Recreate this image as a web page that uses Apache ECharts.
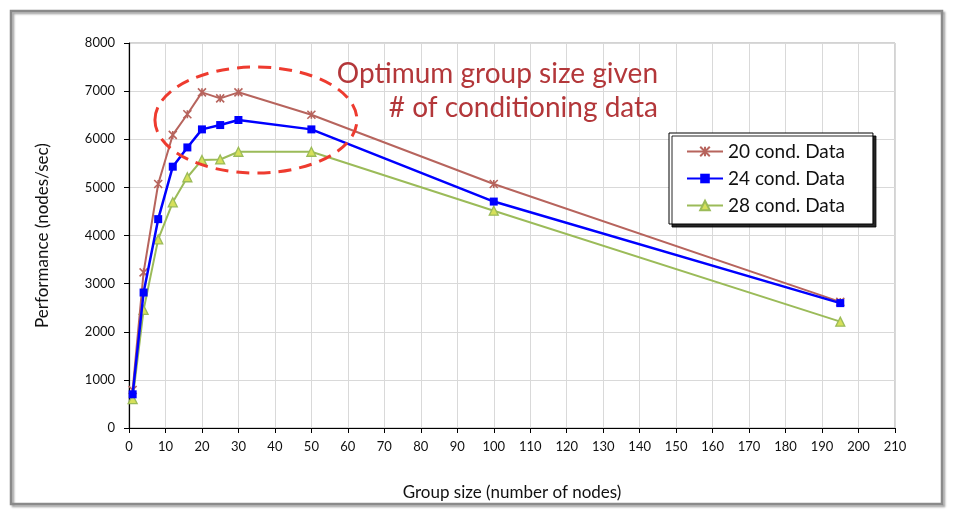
<!DOCTYPE html>
<html>
<head>
<meta charset="utf-8">
<script src="https://cdn.jsdelivr.net/npm/echarts@6/dist/echarts.min.js"></script>
<style>
html,body{margin:0;padding:0;background:#fff;}
#chart{width:956px;height:520px;}
</style>
</head>
<body>
<div id="chart"></div>
<script>
var groupSizes = [1, 4, 8, 12, 16, 20, 25, 30, 50, 100, 195];
var cond20 = [790, 3235, 5070, 6090, 6520, 6975, 6850, 6975, 6510, 5070, 2620];
var cond24 = [700, 2815, 4340, 5430, 5830, 6205, 6295, 6400, 6205, 4705, 2595];
var cond28 = [600, 2455, 3920, 4690, 5210, 5570, 5580, 5740, 5740, 4515, 2210];
var seriesNames = ['20 cond. Data', '24 cond. Data', '28 cond. Data'];
var annotationLines = ['Optimum group size given', '# of conditioning data'];

function pairs(ys) { return groupSizes.map(function (x, i) { return [x, ys[i]]; }); }

var FONT = 'Lato, "Open Sans", sans-serif';
var chart = echarts.init(document.getElementById('chart'));
var crossPath = 'path://M0,0L10,10M10,0L0,10M5,0L5,10';

chart.setOption({
  animation: false,
  backgroundColor: '#fff',
  textStyle: { fontFamily: FONT },
  grid: { left: 129, right: 61, top: 43, bottom: 92, show: true, borderColor: '#a6a6a6', borderWidth: 1 },
  legend: {
    orient: 'vertical',
    left: 669, top: 133,
    padding: [9, 28, 9, 17],
    itemGap: 8,
    itemWidth: 36, itemHeight: 12,
    backgroundColor: '#fff',
    borderColor: '#000', borderWidth: 1,
    shadowColor: 'rgba(0,0,0,0.85)', shadowOffsetX: 3, shadowOffsetY: 3, shadowBlur: 0,
    textStyle: { fontSize: 19, color: '#111', fontFamily: FONT },
    data: seriesNames
  },
  xAxis: {
    type: 'value', min: 0, max: 210, interval: 10,
    name: 'Group size (number of nodes)', nameLocation: 'middle', nameGap: 56,
    nameTextStyle: { fontSize: 17, color: '#111' },
    axisLine: { show: true, onZero: false, lineStyle: { color: '#000', width: 1.2 } },
    axisTick: { show: true, length: 5, lineStyle: { color: '#000' } },
    axisLabel: { fontSize: 13, color: '#111', margin: 12 },
    splitLine: { show: true, lineStyle: { color: '#d9d9d9' } }
  },
  yAxis: {
    type: 'value', min: 0, max: 8000, interval: 1000,
    name: 'Performance (nodes/sec)', nameLocation: 'middle', nameGap: 78, nameRotate: 90,
    nameTextStyle: { fontSize: 17, color: '#111' },
    axisLine: { show: true, lineStyle: { color: '#000', width: 1.2 } },
    axisTick: { show: true, length: 5, lineStyle: { color: '#000' } },
    axisLabel: { fontSize: 13, color: '#111', margin: 14, formatter: function (v) { return String(v); } },
    splitLine: { show: true, lineStyle: { color: '#d9d9d9' } }
  },
  series: [
    {
      name: seriesNames[0], type: 'line', data: pairs(cond20),
      symbol: crossPath, symbolSize: 8,
      lineStyle: { color: '#b7645d', width: 2 },
      itemStyle: { color: '#b7645d', borderColor: '#b7645d', borderWidth: 1.6 },
      z: 3
    },
    {
      name: seriesNames[1], type: 'line', data: pairs(cond24),
      symbol: 'rect', symbolSize: 8,
      lineStyle: { color: '#0000ff', width: 2.5 },
      itemStyle: { color: '#0000ff' },
      z: 4
    },
    {
      name: seriesNames[2], type: 'line', data: pairs(cond28),
      symbol: 'triangle', symbolSize: 9,
      lineStyle: { color: '#9bbb59', width: 2 },
      itemStyle: { color: '#d6e05a', borderColor: '#9bbb59', borderWidth: 1.3 },
      z: 2
    }
  ]
});

var c = chart.convertToPixel({ gridIndex: 0 }, [34.8, 6400]);
chart.setOption({
  graphic: [
    {
      type: 'rect', silent: true, z: -1,
      shape: { x: 11, y: 11, width: 931, height: 493 },
      style: { fill: 'none', stroke: '#8a8a8a', lineWidth: 2.5,
               shadowColor: 'rgba(0,0,0,0.35)', shadowOffsetX: 2, shadowOffsetY: 2, shadowBlur: 2 }
    },
    {
      type: 'ellipse', silent: true, z: 10,
      shape: { cx: c[0], cy: c[1], rx: 101, ry: 53 },
      style: { fill: 'none', stroke: '#ee3b2f', lineWidth: 3, lineDash: [13, 8] }
    },
    {
      type: 'text', silent: true, z: 10, x: 658, y: 74,
      style: { text: annotationLines[0], fill: '#b3373a', font: '28px ' + FONT, align: 'right', verticalAlign: 'middle' }
    },
    {
      type: 'text', silent: true, z: 10, x: 658, y: 108,
      style: { text: annotationLines[1], fill: '#b3373a', font: '28px ' + FONT, align: 'right', verticalAlign: 'middle' }
    }
  ]
});
</script>
</body>
</html>
